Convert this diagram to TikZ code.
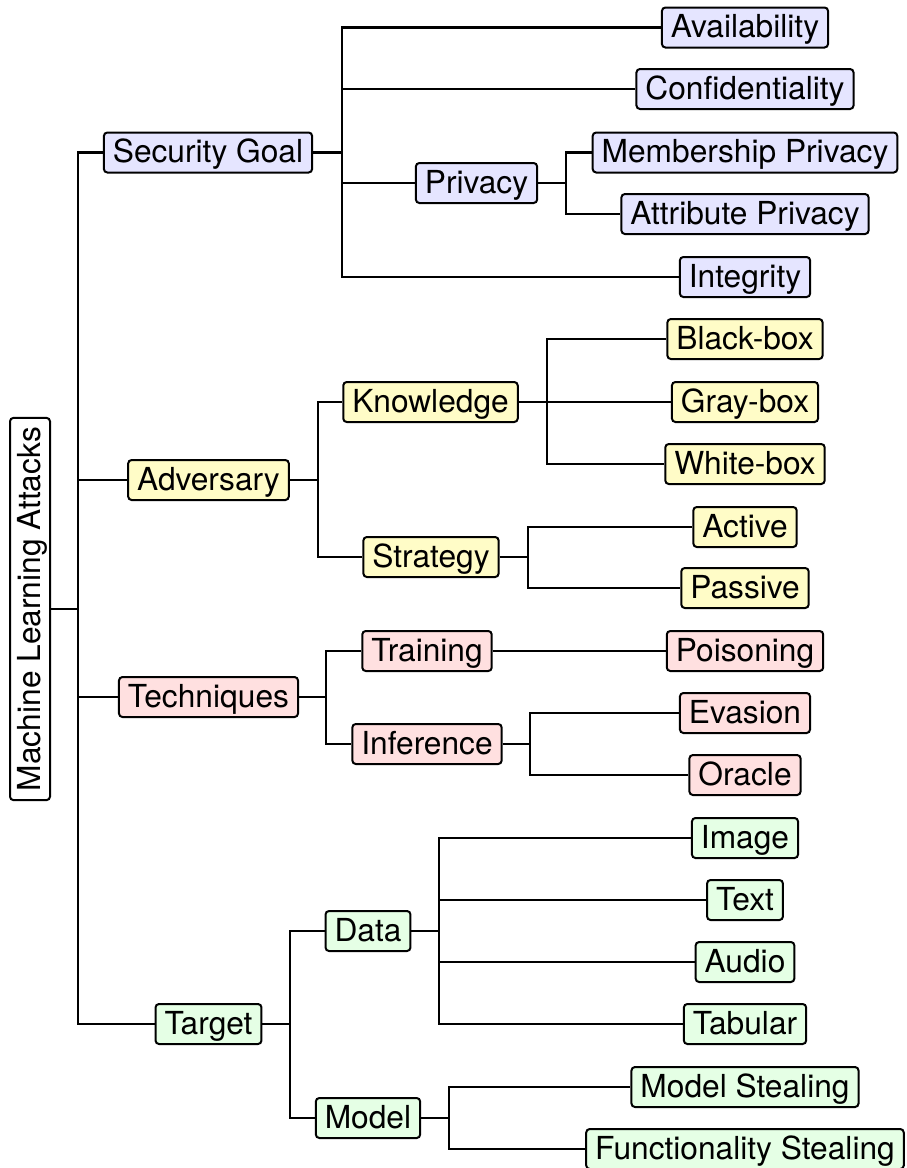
\documentclass[tikz,border=0pt]{standalone}
\usepackage{fontspec}
\setmainfont{TeX Gyre Heros}
\begin{document}
\begin{tikzpicture}[x=1pt,y=-1pt,
  box/.style={draw=black, line width=2pt, rounded corners=3.5pt, inner xsep=9pt, inner ysep=3pt,
    text height=27pt, text depth=7pt, font=\fontsize{31.7}{38}\selectfont},
  bl/.style={box, fill=blue!10},
  yl/.style={box, fill=yellow!22},
  rd/.style={box, fill=red!12},
  gr/.style={box, fill=green!10},
  conn/.style={line width=2.2pt, line join=miter}]
\useasboundingbox (0,0) rectangle (906,1168);
% root
\node[box, rotate=90, fill=white] (root) at (30,609) {Machine Learning Attacks};
% level 1
\node[bl] (sg) at (208,152.5) {Security Goal};
\node[yl] (adv) at (208.5,480) {Adversary};
\node[rd] (tech) at (208.5,697) {Techniques};
\node[gr] (tgt) at (208.5,1024) {Target};
% security goal
\node[bl] (avail) at (745,27.5) {Availability};
\node[bl] (conf) at (745,89) {Confidentiality};
\node[bl] (priv) at (476.5,183) {Privacy};
\node[bl] (memb) at (745,152.5) {Membership Privacy};
\node[bl] (attr) at (745,214) {Attribute Privacy};
\node[bl] (integ) at (745,277) {Integrity};
% adversary
\node[yl] (know) at (430.5,402) {Knowledge};
\node[yl] (strat) at (431,557) {Strategy};
\node[yl] (black) at (745,339) {Black-box};
\node[yl] (gray) at (745,402) {Gray-box};
\node[yl] (white) at (745,464) {White-box};
\node[yl] (active) at (745,527) {Active};
\node[yl] (passive) at (745,588) {Passive};
% techniques
\node[rd] (train) at (427,651) {Training};
\node[rd] (infer) at (427,744) {Inference};
\node[rd] (poison) at (745,651) {Poisoning};
\node[rd] (evasion) at (745,713) {Evasion};
\node[rd] (oracle) at (745,775) {Oracle};
% target
\node[gr] (data) at (368,931) {Data};
\node[gr] (model) at (368,1118) {Model};
\node[gr] (image) at (745,838) {Image};
\node[gr] (text) at (745,900) {Text};
\node[gr] (audio) at (745,962) {Audio};
\node[gr] (tab) at (745,1024) {Tabular};
\node[gr] (mst) at (745,1087) {Model Stealing};
\node[gr] (fst) at (745,1149) {Functionality Stealing};
% branch points
\coordinate (vroot) at (78,609);
\coordinate (vsg) at (342,152.5);
\coordinate (vpriv) at (566,183);
\coordinate (vadv) at (318,480);
\coordinate (vknow) at (547,402);
\coordinate (vstrat) at (528,557);
\coordinate (vtech) at (326,697);
\coordinate (vinfer) at (530,744);
\coordinate (vtgt) at (290,1024);
\coordinate (vdata) at (439,931);
\coordinate (vmodel) at (449,1118);
% connectors
\foreach \c in {sg,adv,tech,tgt} \draw[conn] (root.south) -- (vroot) |- (\c.west);
\foreach \c in {avail,conf,priv,integ} \draw[conn] (sg.east) -- (vsg) |- (\c.west);
\foreach \c in {memb,attr} \draw[conn] (priv.east) -- (vpriv) |- (\c.west);
\foreach \c in {know,strat} \draw[conn] (adv.east) -- (vadv) |- (\c.west);
\foreach \c in {black,gray,white} \draw[conn] (know.east) -- (vknow) |- (\c.west);
\foreach \c in {active,passive} \draw[conn] (strat.east) -- (vstrat) |- (\c.west);
\foreach \c in {train,infer} \draw[conn] (tech.east) -- (vtech) |- (\c.west);
\draw[conn] (train.east) -- (poison.west);
\foreach \c in {evasion,oracle} \draw[conn] (infer.east) -- (vinfer) |- (\c.west);
\foreach \c in {data,model} \draw[conn] (tgt.east) -- (vtgt) |- (\c.west);
\foreach \c in {image,text,audio,tab} \draw[conn] (data.east) -- (vdata) |- (\c.west);
\foreach \c in {mst,fst} \draw[conn] (model.east) -- (vmodel) |- (\c.west);
\end{tikzpicture}
\end{document}
